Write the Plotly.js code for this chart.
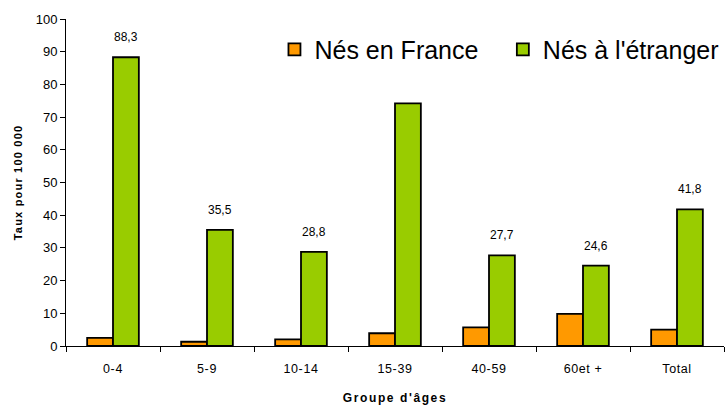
<!DOCTYPE html>
<html><head><meta charset="utf-8">
<script src="https://cdn.plot.ly/plotly-3.0.1.min.js"></script>
<style>body{margin:0;background:#fff}#c{width:726px;height:405px}
.xtitle{letter-spacing:1.6px}.ytitle{letter-spacing:1.2px}
.xtick text{letter-spacing:0.6px}</style>
</head><body><div id="c"></div>
<script>
var categories = ["0-4","5-9","10-14","15-39","40-59","60et +","Total"];
var nesFrance = [2.5, 1.3, 2.0, 3.9, 5.7, 9.8, 5.0];
var nesEtranger = [88.3, 35.5, 28.8, 74.2, 27.7, 24.6, 41.8];
var etrangerLabels = ["88,3","35,5","28,8","","27,7","24,6","41,8"];

var traces = [
 {type:"bar", name:"Nés en France", x:categories, y:nesFrance, legend:"legend",
  marker:{color:"#FF9900", line:{color:"#000", width:1.8}}},
 {type:"bar", name:"Nés à l'étranger", x:categories, y:nesEtranger, legend:"legend2",
  marker:{color:"#99CC00", line:{color:"#000", width:1.8}}}
];
var ann = [];
for (var i=0;i<categories.length;i++){
  if(!etrangerLabels[i]) continue;
  ann.push({x:categories[i], y:nesEtranger[i], xref:"x", yref:"y", text:etrangerLabels[i],
    showarrow:false, xshift:13, yshift:20, font:{family:"Liberation Sans, Arial", size:12, color:"#000"}});
}
var legFont = {size:25, color:"#000"};
var layout = {
  width:726, height:405, paper_bgcolor:"#fff", plot_bgcolor:"#fff",
  margin:{l:66, r:2, t:19, b:59},
  barmode:"group", bargap:0.45, bargroupgap:0,
  font:{family:"Liberation Sans, Arial", color:"#000", size:12},
  showlegend:true,
  legend:{orientation:"h", xref:"paper", x:230/726, y:1-38/405, yref:"paper", xanchor:"left", yanchor:"middle",
    font:legFont, bgcolor:"rgba(0,0,0,0)", itemwidth:30},
  legend2:{orientation:"h", xref:"paper", x:482/726, y:1-38/405, yref:"paper", xanchor:"left", yanchor:"middle",
    font:legFont, bgcolor:"rgba(0,0,0,0)", itemwidth:30},
  xaxis:{showline:true, linecolor:"#000", linewidth:1, ticks:"outside", tickson:"boundaries",
    ticklen:5, tickcolor:"#000", showgrid:false, tickfont:{size:12.5}, ticklabelstandoff:11,
    title:{text:"<b>Groupe d'âges</b>", font:{size:12}, standoff:19}},
  yaxis:{range:[0,100], dtick:10, showline:true, linecolor:"#000", linewidth:1,
    ticks:"outside", ticklen:5, tickcolor:"#000", showgrid:false, zeroline:false,
    tickfont:{size:13},
    title:{text:"<b>Taux pour 100 000</b>", font:{size:11}, standoff:10}},
  annotations:ann
};
Plotly.newPlot("c", traces, layout, {displayModeBar:false, staticPlot:true});
</script></body></html>
